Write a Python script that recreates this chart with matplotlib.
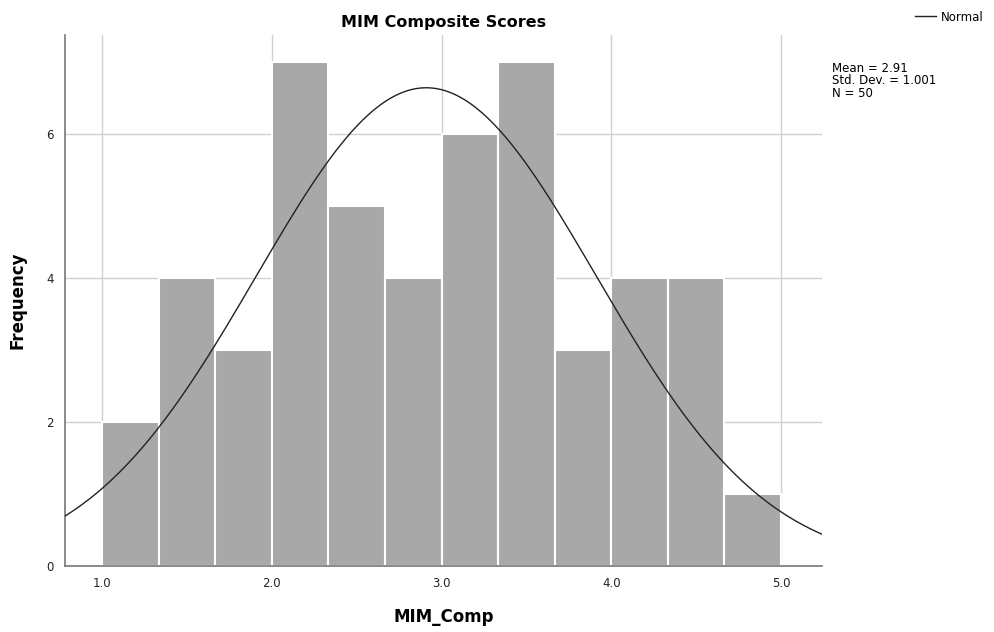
import numpy as np
import matplotlib.pyplot as plt

# histogram of MIM_Comp (12 bins from 1.0 to 5.0)
bin_edges = np.linspace(1.0, 5.0, 13)
counts = [2, 4, 3, 7, 5, 4, 6, 7, 3, 4, 4, 1]
mean = 2.91
std = 1.001
n = 50

fig = plt.figure(figsize=(9.94, 6.32), dpi=100)
ax = fig.add_axes([65 / 994, 1 - 566 / 632, (822 - 65) / 994, (566 - 35) / 632])

width = bin_edges[1] - bin_edges[0]
ax.bar(bin_edges[:-1], counts, width=width, align='edge',
       color='#a8a8a8', edgecolor='white', linewidth=1.5, zorder=2)

# normal curve scaled to the histogram
xs = np.linspace(0.78, 5.25, 400)
ys = n * width * np.exp(-0.5 * ((xs - mean) / std) ** 2) / (std * np.sqrt(2 * np.pi))
line, = ax.plot(xs, ys, color='#222222', linewidth=1.0, zorder=3)

ax.set_xlim(0.782, 5.241)
ax.set_ylim(0, 7.375)
ax.set_xticks([1.0, 2.0, 3.0, 4.0, 5.0])
ax.set_xticklabels(['1.0', '2.0', '3.0', '4.0', '5.0'])
ax.set_yticks([0, 2, 4, 6])
ax.grid(True, color='#d0d0d0', linewidth=1.0, zorder=0)
ax.set_axisbelow(True)
ax.tick_params(length=0, labelsize=8.5, pad=8, colors='#222222')
for s in ['top', 'right']:
    ax.spines[s].set_visible(False)
for s in ['left', 'bottom']:
    ax.spines[s].set_color('#777777')
    ax.spines[s].set_linewidth(1.2)

ax.set_title('MIM Composite Scores', fontsize=11.5, fontweight='bold', pad=6)
ax.set_xlabel('MIM_Comp', fontsize=12, fontweight='bold', labelpad=13)
ax.set_ylabel('Frequency', fontsize=12, fontweight='bold', labelpad=14)

fig.text(832 / 994, 1 - 81 / 632, 'Mean = %.2f\nStd. Dev. = %.3f\nN = %d' % (mean, std, n),
         fontsize=8.5, va='center', ha='left', linespacing=0.95)
fig.legend([line], ['Normal'], loc='upper right', bbox_to_anchor=(1.0, 1.0),
           frameon=False, fontsize=8.5, handlelength=1.8, handletextpad=0.4)

fig.savefig('out.png', dpi=100)
